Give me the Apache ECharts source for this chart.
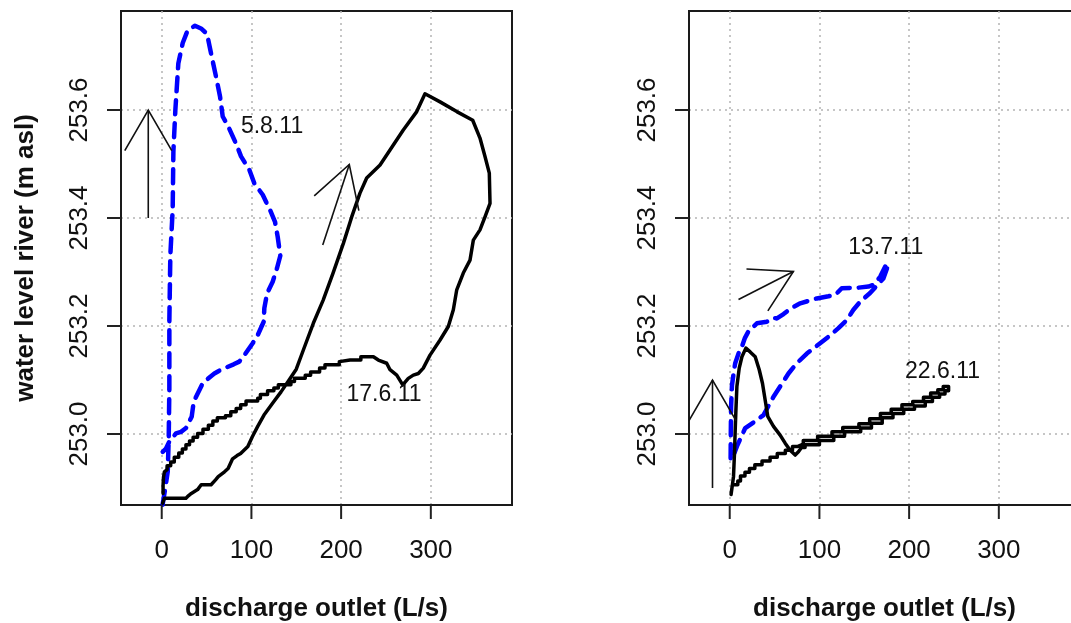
<!DOCTYPE html>
<html>
<head>
<meta charset="utf-8">
<script src="https://cdn.jsdelivr.net/npm/echarts@6/dist/echarts.min.js"></script>
<style>
  html, body { margin: 0; padding: 0; background: #ffffff; }
  #chart { width: 1071px; height: 623px; }
</style>
</head>
<body>
<div id="chart"></div>
<script>
// Axis ticks (discharge in L/s, water level in m asl)
const xTicks = [0, 100, 200, 300];
const yTicks = [253.0, 253.2, 253.4, 253.6];

// Event 17.6.11 (black loop, left panel): [discharge, water level]
const ev170611 = [
  [1, 252.872], [3, 252.881], [27, 252.881], [30, 252.886], [33, 252.890], [40, 252.897],
  [44, 252.906], [55, 252.906], [60, 252.915], [63, 252.921], [70, 252.930], [74, 252.936],
  [79, 252.954], [84, 252.960], [88, 252.964], [96, 252.977], [101, 252.995], [107, 253.014],
  [114, 253.035], [125, 253.060], [133, 253.078], [142, 253.100], [150, 253.120], [158, 253.156],
  [169, 253.205], [180, 253.248], [191, 253.298], [202.5, 253.353], [211.8, 253.402],
  [221, 253.446], [228.5, 253.474], [243.4, 253.498], [254.5, 253.526], [269.3, 253.563],
  [284.3, 253.597], [293.5, 253.630], [310.3, 253.615], [328.9, 253.597], [346.7, 253.581],
  [354.8, 253.548], [360.4, 253.514], [365.2, 253.483], [366, 253.427], [360.4, 253.402],
  [354.8, 253.378], [347.4, 253.359], [343.7, 253.322], [336.2, 253.298], [328.9, 253.267],
  [325.1, 253.230], [319.5, 253.199], [310.3, 253.174], [299.1, 253.146], [291.6, 253.122],
  [286.1, 253.112], [280.5, 253.109], [274.9, 253.103], [268.7, 253.091], [262, 253.109],
  [254.5, 253.119], [250.8, 253.131], [241.5, 253.137], [236, 253.143], [222, 253.143],
  [222, 253.137], [210, 253.137], [210, 253.134], [198, 253.134], [198, 253.128], [182, 253.128],
  [182, 253.122], [176, 253.122], [176, 253.115], [166, 253.115], [166, 253.109], [160, 253.109],
  [160, 253.103], [148, 253.103], [148, 253.097], [144, 253.097], [144, 253.091], [130, 253.091],
  [130, 253.085], [125, 253.085], [125, 253.080], [118, 253.080], [118, 253.073], [110, 253.073],
  [110, 253.066], [107, 253.066], [107, 253.061], [94, 253.061], [94, 253.054], [88, 253.054],
  [88, 253.047], [83, 253.047], [83, 253.041], [77, 253.041], [77, 253.034], [71, 253.034],
  [71, 253.030], [62, 253.030], [62, 253.024], [57, 253.024], [57, 253.016], [52, 253.016],
  [52, 253.009], [46, 253.009], [46, 253.001], [40, 253.001], [40, 252.994], [35, 252.994],
  [35, 252.987], [31, 252.987], [31, 252.980], [27, 252.980], [27, 252.972], [23, 252.972],
  [23, 252.965], [19, 252.965], [19, 252.957], [14, 252.957], [14, 252.948], [10, 252.948],
  [10, 252.941], [6, 252.941], [6, 252.934], [3, 252.930], [2, 252.920], [1.5, 252.905],
  [1.5, 252.890]
];

// Event 5.8.11 (blue dashed loop, left panel)
const ev050811 = [
  [1, 252.869], [4, 252.900], [6.7, 252.930], [7.8, 252.992], [8.5, 253.085], [8.5, 253.208],
  [9.6, 253.331], [12.2, 253.415], [13, 253.523], [15.2, 253.600], [18.5, 253.686],
  [23.4, 253.724], [29, 253.748], [37.1, 253.756], [43.8, 253.751], [50.5, 253.741],
  [54.2, 253.711], [60.5, 253.662], [65, 253.625], [68, 253.588], [74.3, 253.569],
  [82.8, 253.538], [88.4, 253.514], [97.7, 253.489], [103.3, 253.464], [112.6, 253.443],
  [116.3, 253.430], [120.7, 253.415], [126.3, 253.393], [129.3, 253.365], [132.2, 253.330],
  [128.5, 253.307], [123.7, 253.282], [117.4, 253.260], [114.4, 253.233], [113.7, 253.208],
  [107, 253.183], [101.4, 253.168], [92.1, 253.146], [86.5, 253.134], [80.2, 253.129],
  [66.1, 253.119], [58.7, 253.112], [54.2, 253.106], [45.7, 253.094], [41.9, 253.081],
  [35.7, 253.060], [33.4, 253.032], [27.1, 253.011], [21.5, 253.004], [15.9, 253.001],
  [8.5, 252.986], [4.8, 252.973], [1.1, 252.967]
];

// Event 22.6.11 (black loop, right panel)
const ev220611 = [
  [1.7, 252.890], [4.2, 252.921], [5.3, 252.964], [6.1, 253.007], [6.9, 253.044], [8, 253.088],
  [10.6, 253.122], [13.6, 253.143], [18, 253.159], [22.8, 253.152], [28.4, 253.143],
  [32.9, 253.119], [36.5, 253.094], [39.5, 253.063], [42.5, 253.032], [48.8, 253.014],
  [56.2, 252.998], [61.8, 252.983], [67.4, 252.970], [73, 252.961], [76.6, 252.967],
  [80, 252.975], [84, 252.975], [84, 252.980], [100, 252.980], [100, 252.988], [116, 252.988],
  [116, 252.996], [128, 252.996], [128, 253.004], [146, 253.004], [146, 253.011], [158, 253.011],
  [158, 253.020], [170, 253.020], [170, 253.030], [182, 253.030], [182, 253.038], [194, 253.038],
  [194, 253.046], [206, 253.046], [206, 253.052], [218, 253.052], [218, 253.060], [226, 253.060],
  [226, 253.068], [234, 253.068], [234, 253.074], [240, 253.074], [240, 253.080], [244, 253.080],
  [244, 253.088], [238, 253.088], [238, 253.082], [232, 253.082], [232, 253.076], [224, 253.076],
  [224, 253.068], [216, 253.068], [216, 253.060], [204, 253.060], [204, 253.054], [192, 253.054],
  [192, 253.046], [180, 253.046], [180, 253.038], [168, 253.038], [168, 253.028], [156, 253.028],
  [156, 253.019], [144, 253.019], [144, 253.012], [126, 253.012], [126, 253.004], [114, 253.004],
  [114, 252.996], [98, 252.996], [98, 252.988], [82, 252.988], [82, 252.981], [76, 252.977],
  [70, 252.977], [70, 252.970], [62, 252.970], [62, 252.964], [53, 252.964], [53, 252.957],
  [45, 252.957], [45, 252.950], [36, 252.950], [36, 252.943], [28, 252.943], [28, 252.936],
  [22, 252.936], [22, 252.929], [17, 252.929], [17, 252.922], [12, 252.922], [12, 252.913],
  [9, 252.913], [9, 252.906], [3, 252.906], [2, 252.895], [1.5, 252.888]
];

// Event 13.7.11 (blue dashed loop, right panel)
const ev130711 = [
  [1, 252.955], [1.2, 253.000], [1.5, 253.050], [2.5, 253.090], [5, 253.120], [6.1, 253.131],
  [10, 253.150], [13.6, 253.162], [17, 253.178], [20.9, 253.190], [26.5, 253.199],
  [30.3, 253.205], [41.4, 253.208], [48.8, 253.215], [52.6, 253.214], [60, 253.222],
  [67.4, 253.232], [78.6, 253.242], [97.1, 253.251], [110, 253.255], [118, 253.258],
  [124.9, 253.270], [143.5, 253.271], [154.6, 253.273], [160, 253.276], [167.7, 253.291],
  [175.1, 253.316], [176.5, 253.312], [171.3, 253.288], [156.5, 253.261], [145.4, 253.245],
  [137.9, 253.230], [130.5, 253.211], [121.2, 253.196], [110, 253.180], [100.8, 253.168],
  [86, 253.149], [74.8, 253.131], [65.5, 253.112], [56.2, 253.088], [48.8, 253.069],
  [37.6, 253.035], [27, 253.022], [17.3, 253.011], [8, 252.977], [2.4, 252.952]
];

// Direction arrows: [fromX, fromY, toX, toY]
const arrowsLeft = [[-15, 253.40, -15, 253.60], [179.5, 253.350, 209.1, 253.499]];
const arrowsRight = [[-19.2, 252.90, -19.2, 253.10], [9.8, 253.249, 71, 253.301]];

// Event labels: [x, y, text]
const labelsLeft = [[123, 253.569, '5.8.11'], [247.8, 253.072, '17.6.11']];
const labelsRight = [[174, 253.345, '13.7.11'], [237.2, 253.115, '22.6.11']];

const FONT = 'Liberation Sans, Arial, Helvetica, sans-serif';
const X_MIN = -45.4, X_MAX = 390.5;
const Y_MIN = 252.8685, Y_MAX = 253.7833;
const FRAME = '#1a1a1a';
const TICK_LEN = 14;

function makeGrid(left) {
  return {
    left: left, top: 11, width: 391, height: 494,
    show: true, borderColor: FRAME, borderWidth: 2, backgroundColor: 'transparent',
    containLabel: false, outerBoundsMode: 'none'
  };
}

function makeXAxis(gridIndex) {
  return {
    type: 'value', gridIndex: gridIndex, min: X_MIN, max: X_MAX, position: 'bottom',
    name: 'discharge outlet (L/s)', nameLocation: 'middle', nameGap: 91,
    nameTextStyle: { fontFamily: FONT, fontSize: 26, fontWeight: 'bold', color: '#111' },
    axisLine: { show: true, onZero: false, lineStyle: { color: FRAME, width: 2 } },
    axisTick: { show: false, customValues: xTicks },
    axisLabel: { show: true, customValues: xTicks, margin: 33, fontFamily: FONT, fontSize: 26, color: '#111' },
    splitLine: { show: true, lineStyle: { color: '#b4b4b4', width: 1.5, type: [2, 4] } }
  };
}

function makeYAxis(gridIndex, withName) {
  return {
    type: 'value', gridIndex: gridIndex, min: Y_MIN, max: Y_MAX, position: 'left',
    name: withName ? 'water level river (m asl)' : '',
    nameLocation: 'middle', nameGap: 82, nameRotate: 90,
    nameTextStyle: { fontFamily: FONT, fontSize: 26, fontWeight: 'bold', color: '#111' },
    axisLine: { show: true, onZero: false, lineStyle: { color: FRAME, width: 2 } },
    axisTick: { show: false, customValues: yTicks },
    axisLabel: {
      show: true, customValues: yTicks, rotate: 90, margin: 28, fontFamily: FONT, fontSize: 26, color: '#111',
      formatter: v => Number(v).toFixed(1)
    },
    splitLine: { show: true, lineStyle: { color: '#b4b4b4', width: 1.5, type: [2, 4] } }
  };
}

// Outward tick marks on the bottom (x) and left (y) frame edges
function renderXTick(params, api) {
  const p = api.coord([api.value(0), Y_MIN]);
  return { type: 'line', shape: { x1: p[0], y1: p[1], x2: p[0], y2: p[1] + TICK_LEN },
           style: { stroke: '#222', lineWidth: 2 } };
}
function renderYTick(params, api) {
  const p = api.coord([X_MIN, api.value(1)]);
  return { type: 'line', shape: { x1: p[0], y1: p[1], x2: p[0] - TICK_LEN, y2: p[1] },
           style: { stroke: '#222', lineWidth: 2 } };
}
function tickSeries(gridIndex) {
  return [
    { type: 'custom', xAxisIndex: gridIndex, yAxisIndex: gridIndex, clip: false, silent: true,
      animation: false, z: 7, renderItem: renderXTick, data: xTicks.map(v => [v, Y_MIN]) },
    { type: 'custom', xAxisIndex: gridIndex, yAxisIndex: gridIndex, clip: false, silent: true,
      animation: false, z: 7, renderItem: renderYTick, data: yTicks.map(v => [X_MIN, v]) }
  ];
}

function loopSeries(data, gridIndex, dashed) {
  return {
    type: 'line', xAxisIndex: gridIndex, yAxisIndex: gridIndex, data: data,
    showSymbol: false, symbol: 'none', smooth: false, silent: true, animation: false, z: dashed ? 3 : 4,
    lineStyle: dashed
      ? { color: '#0000ff', width: 4.5, type: [14, 9], cap: 'round', join: 'round' }
      : { color: '#000000', width: 3.5, type: 'solid', cap: 'round', join: 'round' }
  };
}

function renderArrow(params, api) {
  const p0 = api.coord([api.value(0), api.value(1)]);
  const p1 = api.coord([api.value(2), api.value(3)]);
  const a = Math.atan2(p1[1] - p0[1], p1[0] - p0[0]);
  const len = 47, spread = Math.PI / 6;
  const h1 = [p1[0] - len * Math.cos(a - spread), p1[1] - len * Math.sin(a - spread)];
  const h2 = [p1[0] - len * Math.cos(a + spread), p1[1] - len * Math.sin(a + spread)];
  const style = { stroke: '#111', lineWidth: 1.6, fill: null };
  return {
    type: 'group',
    children: [
      { type: 'polyline', shape: { points: [p0, p1] }, style: style },
      { type: 'polyline', shape: { points: [h1, p1, h2] }, style: style }
    ]
  };
}

function arrowSeries(data, gridIndex) {
  return {
    type: 'custom', xAxisIndex: gridIndex, yAxisIndex: gridIndex, data: data,
    renderItem: renderArrow, clip: true, silent: true, animation: false, z: 5
  };
}

function labelSeries(items, gridIndex) {
  return {
    type: 'scatter', xAxisIndex: gridIndex, yAxisIndex: gridIndex, silent: true, animation: false,
    symbolSize: 1, itemStyle: { color: 'rgba(0,0,0,0)', opacity: 1 }, z: 6,
    data: items.map(d => ({ value: [d[0], d[1]], name: d[2] })),
    label: {
      show: true, position: 'inside', formatter: p => p.name,
      fontFamily: FONT, fontSize: 23, color: '#111', textBorderWidth: 0, opacity: 1
    }
  };
}

const chart = echarts.init(document.getElementById('chart'), null, { renderer: 'canvas' });
chart.setOption({
  backgroundColor: '#ffffff',
  animation: false,
  grid: [makeGrid(121), makeGrid(689)],
  xAxis: [makeXAxis(0), makeXAxis(1)],
  yAxis: [makeYAxis(0, true), makeYAxis(1, false)],
  series: [
    loopSeries(ev050811, 0, true),
    loopSeries(ev170611, 0, false),
    arrowSeries(arrowsLeft, 0),
    labelSeries(labelsLeft, 0),
    ...tickSeries(0),
    loopSeries(ev130711, 1, true),
    loopSeries(ev220611, 1, false),
    arrowSeries(arrowsRight, 1),
    labelSeries(labelsRight, 1),
    ...tickSeries(1)
  ]
});
</script>
</body>
</html>
